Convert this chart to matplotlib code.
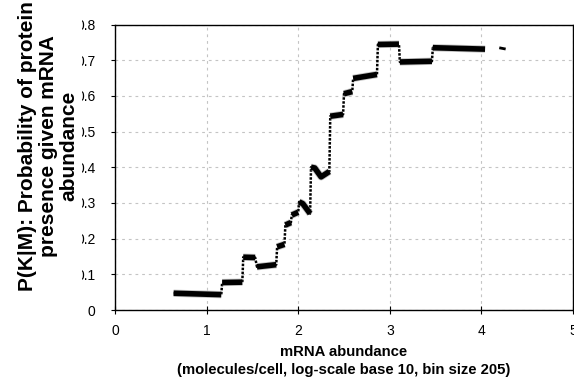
import matplotlib
matplotlib.use("Agg")
import matplotlib.pyplot as plt
import numpy as np

plt.rcParams["font.family"] = ["Liberation Sans", "DejaVu Sans"]

# log10 mRNA abundance vs P(K|M) (plateau break points)
log_mrna = [0.64, 1.16, 1.17, 1.39, 1.40, 1.53, 1.55, 1.76, 1.77, 1.85,
            1.86, 1.92, 1.93, 2.00, 2.01, 2.05, 2.13, 2.14, 2.18, 2.25,
            2.34, 2.35, 2.49, 2.50, 2.59, 2.60, 2.86, 2.87, 3.10, 3.11,
            3.46, 3.47, 4.04]
p_protein = [0.047, 0.043, 0.077, 0.078, 0.148, 0.147, 0.121, 0.127, 0.177, 0.184,
             0.238, 0.245, 0.266, 0.274, 0.303, 0.298, 0.270, 0.400, 0.398, 0.373,
             0.388, 0.543, 0.548, 0.606, 0.612, 0.649, 0.660, 0.744, 0.745, 0.695,
             0.697, 0.735, 0.731]
# which plateau each point belongs to
plateau = [0, 0, 1, 1, 2, 2, 3, 3, 4, 4,
           5, 5, 6, 6, 7, 7, 7, 8, 8, 8,
           8, 9, 9, 10, 10, 11, 11, 12, 12, 13,
           13, 14, 14]
# lone bin at the far right
stray_x = [4.21, 4.25]
stray_y = [0.734, 0.732]

fig = plt.figure(figsize=(5.74, 3.83), dpi=100)
ax = fig.add_axes([115 / 574, 73 / 383, 458 / 574, 285.5 / 383])

x = np.array(log_mrna)
y = np.array(p_protein)
pid = np.array(plateau)
ax.plot(x, y, color="black", lw=1.8, ls=(0, (1, 0.6)), zorder=3)
for k in np.unique(pid):
    m = pid == k
    ax.plot(x[m], y[m], color="#888888", lw=5.2, alpha=0.5,
            solid_capstyle="butt", zorder=3)
    ax.plot(x[m], y[m], color="black", lw=4.0, solid_capstyle="butt", zorder=4)
ax.plot(stray_x, stray_y, color="black", lw=2.0, zorder=4)

ax.set_xlim(0, 5)
ax.set_ylim(0, 0.8)
ax.set_xticks([0, 1, 2, 3, 4, 5])
ax.set_yticks(np.arange(0, 0.81, 0.1))
ax.set_yticklabels(["0", "0.1", "0.2", "0.3", "0.4", "0.5", "0.6", "0.7", "0.8"])
ax.tick_params(axis="both", labelsize=10, colors="black", width=0.8)
ax.tick_params(axis="y", direction="out", length=3, pad=11)
ax.tick_params(axis="x", direction="inout", length=6, pad=7)
ax.grid(True, color="#c4c4c4", ls=(0, (2.5, 3.5)), lw=0.8)
ax.set_axisbelow(True)
for s in ax.spines.values():
    s.set_linewidth(1.0)
    s.set_color("black")

ax.set_xlabel("mRNA abundance\n(molecules/cell, log-scale base 10, bin size 205)",
              fontsize=10.7, fontweight="bold", linespacing=1.35, labelpad=5)

fig.text(48 / 574, 1 - 146 / 383,
         "P(K|M): Probability of protein\npresence given mRNA\nabundance",
         rotation=90, ha="center", va="center", multialignment="center",
         fontsize=15, fontweight="bold", linespacing=1.1, zorder=5,
         bbox=dict(facecolor="white", edgecolor="none", pad=2.5))

fig.savefig("out.png", dpi=100)
